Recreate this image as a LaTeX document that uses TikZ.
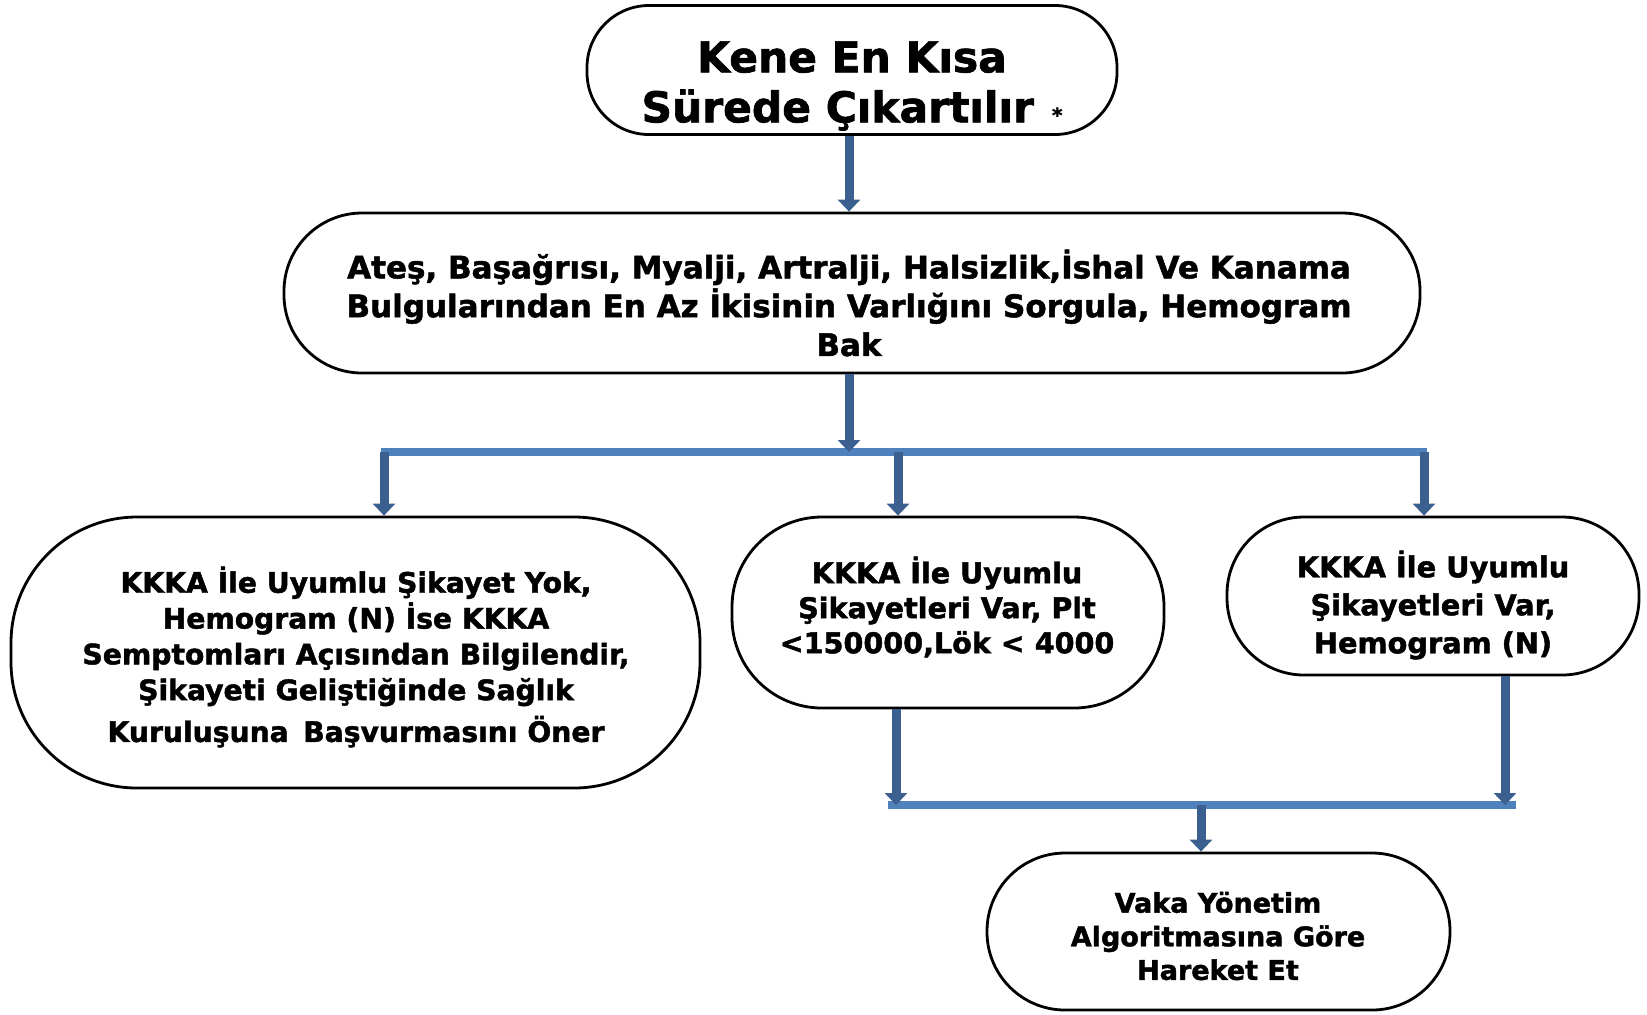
\documentclass[tikz,border=0pt]{standalone}
\usepackage{fontspec}
\setmainfont{DejaVu Sans}[BoldFeatures={FakeBold=1.6}]
\usetikzlibrary{arrows.meta}
\definecolor{arrowblue}{HTML}{3B6090}
\definecolor{barblue}{HTML}{4F81BD}
\begin{document}
\begin{tikzpicture}[x=0.5pt,y=-0.5pt,
  box/.style={draw=black, line width=1.4pt, rounded corners=#1, inner sep=0pt, fill=white},
  txt/.style={align=center, font=\bfseries, inner sep=0pt},
  arr/.style={draw=arrowblue, line width=4.5pt, -{Triangle[width=11pt,length=6pt]}},
  bar/.style={draw=barblue, line width=4pt}]
\useasboundingbox (0,0) rectangle (1647,1014);

% boxes
\node[box=31pt, minimum width=265pt, minimum height=64.5pt] (top) at (852,70) {};
\node[box=39pt, minimum width=568pt, minimum height=80pt] (b2) at (852,293) {};
\node[box=63pt, minimum width=344.5pt, minimum height=135.5pt] (bL) at (355.5,652.5) {};
\node[box=45pt, minimum width=216pt, minimum height=95.5pt] (bM) at (948,612.5) {};
\node[box=38.5pt, minimum width=206pt, minimum height=79pt] (bR) at (1433,596) {};
\node[box=39pt, minimum width=231.5pt, minimum height=78.5pt] (bB) at (1218.5,931.5) {};

% texts
\node[txt, font=\bfseries\fontsize{21.2}{25}\selectfont] (topt) at (852,86)
  {Kene En Kısa\\Sürede Çıkartılır {\fontsize{10}{10}\selectfont\,*}};
\node[txt, font=\bfseries\fontsize{15.5}{19.4}\selectfont] (b2t) at (849,303)
  {Ateş, Başağrısı, Myalji, Artralji, Halsizlik,İshal Ve Kanama\\Bulgularından En Az İkisinin Varlığını Sorgula, Hemogram\\Bak};
\node[txt, font=\bfseries\fontsize{14.1}{17.9}\selectfont] (bLt) at (356,657)
  {KKKA İle Uyumlu Şikayet Yok,\\Hemogram (N) İse KKKA\\Semptomları Açısından Bilgilendir,\\Şikayeti Geliştiğinde Sağlık\\[3pt]Kuruluşuna\, Başvurmasını Öner};
\node[txt, font=\bfseries\fontsize{14.3}{17.5}\selectfont] (bMt) at (947,607)
  {KKKA İle Uyumlu\\Şikayetleri Var, Plt\\<150000,Lök < 4000};
\node[txt, font=\bfseries\fontsize{14.4}{19}\selectfont] (bRt) at (1433,605)
  {KKKA İle Uyumlu\\Şikayetleri Var,\\Hemogram (N)};
\node[txt, font=\bfseries\fontsize{13.5}{16.8}\selectfont] (bBt) at (1218,936)
  {Vaka Yönetim\\Algoritmasına Göre\\Hareket Et};

% junction coordinates
\coordinate (j1) at (849,452);
\coordinate (jL) at (384,452);
\coordinate (jM) at (898,452);
\coordinate (jR) at (1424,452);
\coordinate (kM) at (896,805);
\coordinate (kR) at (1505,805);
\coordinate (k0) at (1201,805);

% connectors
\draw[arr] (top.south -| j1) -- (b2.north -| j1);
\draw[bar] ([xshift=-1.5pt]jL) -- ([xshift=1.5pt]jR);
\draw[arr] (b2.south -| j1) -- (j1);
\draw[arr] (jL) -- (bL.north -| jL);
\draw[arr] (jM) -- (bM.north -| jM);
\draw[arr] (jR) -- (bR.north -| jR);

\draw[bar] ([xshift=-4pt]kM) -- ([xshift=5.5pt]kR);
\draw[arr] (bM.south -| kM) -- (kM);
\draw[arr] (bR.south -| kR) -- (kR);
\draw[arr] (k0) -- (bB.north -| k0);
\end{tikzpicture}
\end{document}
